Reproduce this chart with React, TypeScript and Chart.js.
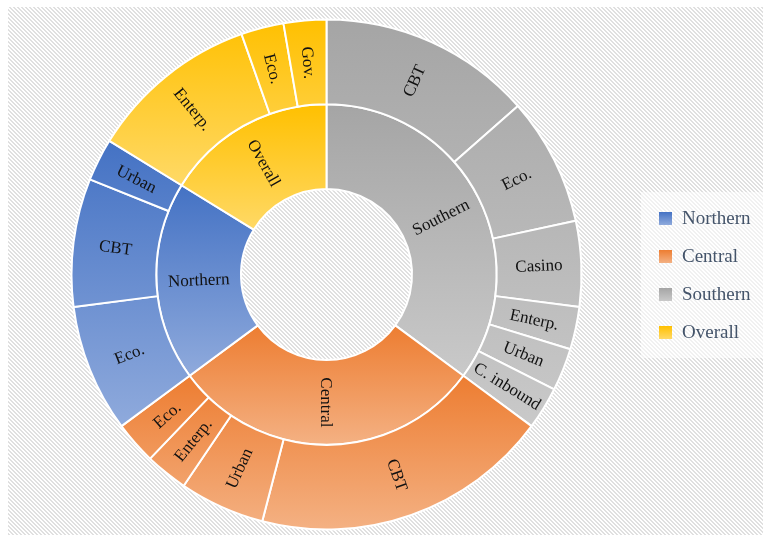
import React, { useEffect, useRef } from "react";
import { Chart, registerables } from "chart.js";

Chart.register(...registerables);

// Inner ring (regions)
const groups = ["Southern", "Central", "Northern", "Overall"];
const groupValues = [13, 11, 7, 6];

// Outer ring (sub-categories)
const subLabels = [
  "CBT", "Eco.", "Casino", "Enterp.", "Urban", "C. inbound",
  "CBT", "Urban", "Enterp.", "Eco.",
  "Eco.", "CBT", "Urban",
  "Enterp.", "Eco.", "Gov.",
];
const subGroups = [
  "Southern", "Southern", "Southern", "Southern", "Southern", "Southern",
  "Central", "Central", "Central", "Central",
  "Northern", "Northern", "Northern",
  "Overall", "Overall", "Overall",
];
const subValues = [5, 3, 2, 1, 1, 1, 7, 2, 1, 1, 3, 3, 1, 4, 1, 1];

const legendOrder = ["Northern", "Central", "Southern", "Overall"];

const palette: Record<string, [string, string]> = {
  Northern: ["#4472C4", "#8FAADC"],
  Central: ["#ED7D31", "#F4B183"],
  Southern: ["#A5A5A5", "#C9C9C9"],
  Overall: ["#FFC000", "#FFD966"],
};

const CUT = 0.3353;

function segGradient(c: any) {
  const chart = c.chart;
  const area = chart.chartArea;
  const ds = c.datasetIndex;
  const i = c.dataIndex;
  const names = ds === 0 ? subGroups : groups;
  const name = names[i];
  const [c0, c1] = palette[name];
  if (!area) return c0;
  const values: number[] = chart.data.datasets[ds].data;
  const total = values.reduce((a, b) => a + b, 0);
  // angular range of the whole group within this ring
  let before = 0;
  let span = 0;
  let started = false;
  for (let k = 0; k < values.length; k++) {
    if (names[k] === name) {
      started = true;
      span += values[k];
    } else if (!started) {
      before += values[k];
    }
  }
  const a0 = -Math.PI / 2 + (2 * Math.PI * before) / total;
  const a1 = -Math.PI / 2 + (2 * Math.PI * (before + span)) / total;
  const cy = (area.top + area.bottom) / 2;
  const R = (Math.min(area.width, area.height) - 2) / 2;
  const r0 = R * CUT;
  const rw = (R - r0) / 2;
  const ro = ds === 0 ? R : R - rw;
  const ri = ro - rw;
  let ymin = Infinity;
  let ymax = -Infinity;
  for (let k = 0; k <= 120; k++) {
    const a = a0 + ((a1 - a0) * k) / 120;
    for (const r of [ri, ro]) {
      const y = cy + r * Math.sin(a);
      if (y < ymin) ymin = y;
      if (y > ymax) ymax = y;
    }
  }
  const g = chart.ctx.createLinearGradient(0, ymin, 0, ymax);
  g.addColorStop(0, c0);
  g.addColorStop(1, c1);
  return g;
}

const labelPlugin = {
  id: "sunLabels",
  afterDatasetsDraw(chart: any) {
    const ctx = chart.ctx;
    ctx.save();
    ctx.font = "17px 'Liberation Serif', 'Times New Roman', serif";
    ctx.fillStyle = "#111111";
    ctx.textAlign = "center";
    ctx.textBaseline = "middle";
    chart.data.datasets.forEach((_ds: any, di: number) => {
      const meta = chart.getDatasetMeta(di);
      const texts = di === 0 ? subLabels : groups;
      meta.data.forEach((arc: any, i: number) => {
        const p = arc.getProps(["x", "y", "startAngle", "endAngle", "innerRadius", "outerRadius"], true);
        const mid = (p.startAngle + p.endAngle) / 2;
        const r = (p.innerRadius + p.outerRadius) / 2;
        const px = p.x + r * Math.cos(mid);
        const py = p.y + r * Math.sin(mid);
        let rot = Math.atan2(Math.sin(mid), Math.cos(mid));
        if (rot > Math.PI / 2 + 0.01) rot -= Math.PI;
        else if (rot < -Math.PI / 2 - 0.01) rot += Math.PI;
        ctx.save();
        ctx.translate(px, py);
        ctx.rotate(rot);
        ctx.fillText(texts[i], 0, 1);
        ctx.restore();
      });
    });
    ctx.restore();
  },
};

const legendPlugin = {
  id: "customLegend",
  afterDraw(chart: any) {
    const ctx = chart.ctx;
    ctx.save();
    ctx.fillStyle = "rgba(255,255,255,0.55)";
    ctx.fillRect(641, 192, 122, 166);
    const ys = [218.5, 256.5, 294.5, 332.5];
    ctx.font = "19px 'Liberation Serif', 'Times New Roman', serif";
    ctx.textAlign = "left";
    ctx.textBaseline = "middle";
    legendOrder.forEach((name, k) => {
      const y = ys[k];
      const [c0, c1] = palette[name];
      const g = ctx.createLinearGradient(0, y - 6.5, 0, y + 6.5);
      g.addColorStop(0, c0);
      g.addColorStop(1, c1);
      ctx.fillStyle = g;
      ctx.fillRect(659, y - 6.5, 13, 13);
      ctx.fillStyle = "#44546A";
      ctx.fillText(name, 682, y + 1);
    });
    ctx.restore();
  },
};

export default function App() {
  const ref = useRef<HTMLCanvasElement | null>(null);

  useEffect(() => {
    if (!ref.current) return;
    const chart = new Chart(ref.current, {
      type: "doughnut",
      data: {
        labels: subLabels,
        datasets: [
          {
            data: subValues,
            backgroundColor: segGradient as any,
            borderColor: "#ffffff",
            borderWidth: 2,
          },
          {
            data: groupValues,
            backgroundColor: segGradient as any,
            borderColor: "#ffffff",
            borderWidth: 2,
          },
        ],
      },
      options: {
        responsive: false,
        maintainAspectRatio: false,
        animation: false,
        events: [],
        cutout: "33.53%",
        layout: { padding: { left: 70.5, right: 180.5, top: 18.5, bottom: 4.5 } },
        plugins: {
          legend: { display: false },
          tooltip: { enabled: false },
        },
      },
      plugins: [labelPlugin, legendPlugin],
    });
    return () => chart.destroy();
  }, []);

  return (
    <div style={{ position: "absolute", left: 0, top: 0, width: 763, height: 535, background: "#ffffff", overflow: "hidden" }}>
      <div
        style={{
          position: "absolute",
          left: 8,
          top: 7,
          right: 0,
          bottom: 0,
          backgroundColor: "#ffffff",
          backgroundImage:
            "linear-gradient(45deg, #e0e0e0 25%, transparent 25%, transparent 50%, #e0e0e0 50%, #e0e0e0 75%, transparent 75%, transparent)",
          backgroundSize: "4px 4px",
        }}
      />
      <canvas ref={ref} width={763} height={535} style={{ position: "absolute", left: 0, top: 0, display: "block" }} />
    </div>
  );
}
